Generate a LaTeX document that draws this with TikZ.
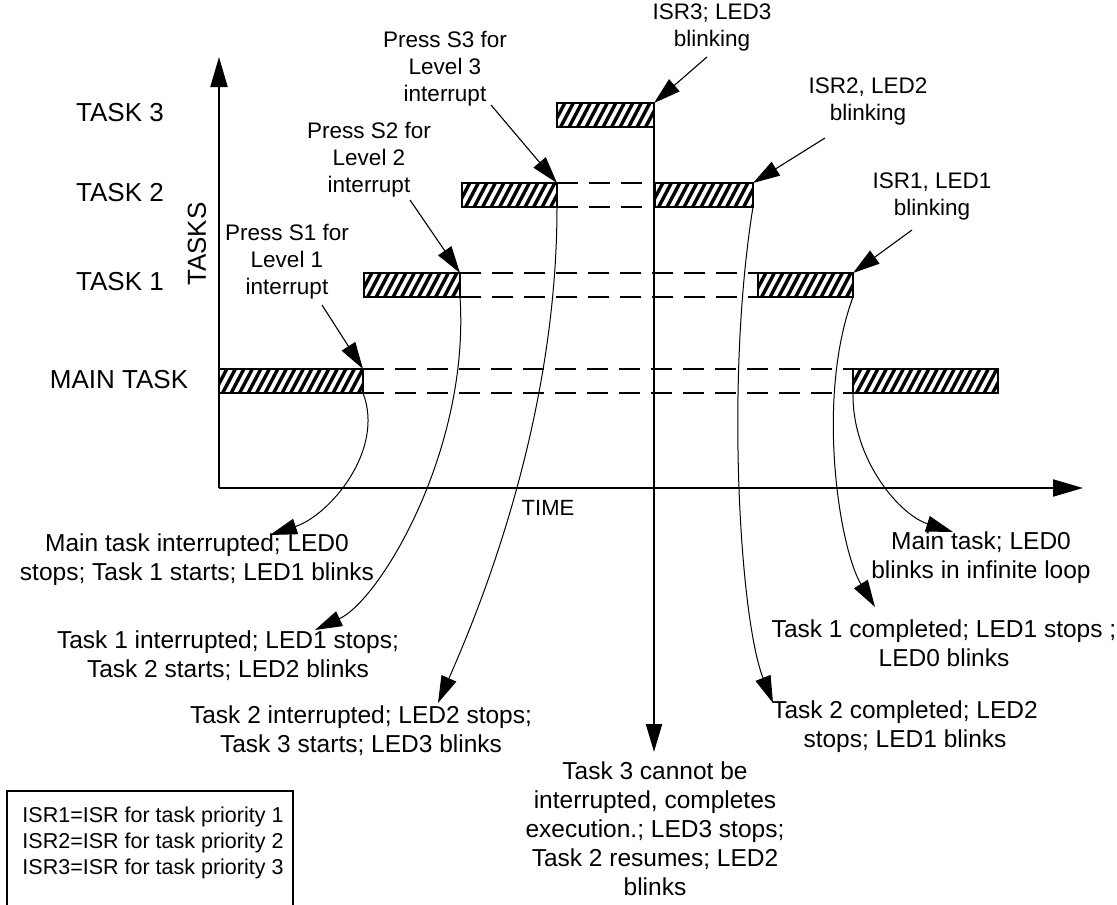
\documentclass[tikz,border=0pt]{standalone}
\usepackage{fontspec}
\setmainfont{Liberation Sans}
\usetikzlibrary{arrows.meta}
\begin{document}
\begin{tikzpicture}[x=1pt,y=-1pt,
  bar/.style={draw, line width=2pt, fill=white, inner sep=0pt, outer sep=0pt,
    minimum height=24pt, anchor=north west,
    path picture={\foreach \k in {0,...,24}{\draw[line width=3.4pt]
      ([xshift=\k*8.5pt-24pt, yshift=-4pt]path picture bounding box.south west) -- ++(18pt,34pt);}}},
  ax/.style={line width=2pt, -{Triangle[length=30pt,width=17pt]}},
  dsh/.style={line width=2pt, dash pattern=on 21pt off 11pt},
  ann/.style={line width=1.1pt, -{Triangle[length=27pt,width=16pt]}},
  crv/.style={line width=1pt, -{Triangle[length=27pt,width=16pt]}},
  lbl/.style={font=\fontsize{24.5}{29}\selectfont, align=center, inner sep=0pt},
  tlbl/.style={font=\fontsize{22.5}{27}\selectfont, align=center, inner sep=0pt},
  axl/.style={font=\fontsize{26}{30}\selectfont, inner sep=0pt},
  tml/.style={font=\fontsize{22}{26}\selectfont, inner sep=0pt},
  leg/.style={font=\fontsize{21.5}{25}\selectfont, inner sep=0pt}
]
\useasboundingbox (0,0) rectangle (1117,905);

% axes
\coordinate (O) at (219,488);
\coordinate (Y) at (219,57);
\coordinate (X) at (1083,488);
\draw[ax] (O) -- (Y);
\draw[ax] (O) -- (X);

% bars
\node[bar, minimum width=144pt] (m1) at (219,369) {};
\node[bar, minimum width=145pt] (m2) at (853,369) {};
\node[bar, minimum width=96pt] (t1a) at (364,273) {};
\node[bar, minimum width=95pt] (t1b) at (758,273) {};
\node[bar, minimum width=95pt] (t2a) at (462,183) {};
\node[bar, minimum width=98pt] (t2b) at (655,183) {};
\node[bar, minimum width=97pt] (t3) at (557,103) {};

% dashed continuation lines
\draw[dsh] (m1.north east) -- (m2.north west);
\draw[dsh] (m1.south east) -- (m2.south west);
\draw[dsh] (t1a.north east) -- (t1b.north west);
\draw[dsh] (t1a.south east) -- (t1b.south west);
\draw[dsh] (t2a.north east) -- (t2b.north west);
\draw[dsh] (t2a.south east) -- (t2b.south west);

% axis labels
\node[axl] (lt3) at (120,113) {TASK 3};
\node[axl] (lt2) at (120,193) {TASK 2};
\node[axl] (lt1) at (120,282) {TASK 1};
\node[axl] (lmain) at (119,380) {MAIN TASK};
\node[axl, rotate=90] (ltasks) at (197,244) {TASKS};
\node[tml] (ltime) at (548,508) {TIME};

% top labels
\node[tlbl] (ps1) at (287,262) {Press S1 for\\Level 1\\interrupt};
\node[tlbl] (ps2) at (369,160) {Press S2 for\\Level 2\\interrupt};
\node[tlbl] (ps3) at (445,69) {Press S3 for\\Level 3\\interrupt};
\node[tlbl] (isr3) at (712,27) {ISR3; LED3\\blinking};
\node[tlbl] (isr2) at (868,101) {ISR2, LED2\\blinking};
\node[tlbl] (isr1) at (932,196) {ISR1, LED1\\blinking};

\coordinate (s1) at (322,305);
\coordinate (s2) at (410,200);
\coordinate (s3) at (491,105);
\coordinate (i3) at (707,57);
\coordinate (i2) at (825,138);
\coordinate (i1) at (912,230);
\draw[ann] (s1) -- (m1.north east);
\draw[ann] (s2) -- (t1a.north east);
\draw[ann] (s3) -- (t2a.north east);
\draw[ann] (i3) -- (t3.north east);
\draw[ann] (i2) -- (t2b.north east);
\draw[ann] (i1) -- (t1b.north east);

% bottom labels
\node[lbl] (la) at (197,560) {Main task interrupted; LED0\\stops; Task 1 starts; LED1 blinks};
\node[lbl] (lb) at (228,656) {Task 1 interrupted; LED1 stops;\\Task 2 starts; LED2 blinks};
\node[lbl] (lc) at (361,731) {Task 2 interrupted; LED2 stops;\\Task 3 starts; LED3 blinks};
\node[lbl] (ld) at (655,829) {Task 3 cannot be\\interrupted, completes\\execution.; LED3 stops;\\Task 2 resumes; LED2\\blinks};
\node[lbl] (le) at (905,727) {Task 2 completed; LED2\\stops; LED1 blinks};
\node[lbl] (lf) at (944,643) {Task 1 completed; LED1 stops ;\\LED0 blinks};
\node[lbl] (lg) at (981,558) {Main task; LED0\\blinks in infinite loop};

\coordinate (ea) at (270,535);
\coordinate (eb) at (315,630);
\coordinate (ec) at (438,703);
\coordinate (ed) at (654,752);
\coordinate (ee) at (773,703);
\coordinate (ef) at (875,607);
\coordinate (eg) at (953,532);

\draw[crv] (m1.south east) .. controls (385,450) and (330,515) .. (ea);
\draw[crv] (t1a.south east) .. controls (470,450) and (380,600) .. (eb);
\draw[crv] (t2a.south east) .. controls (557,420) and (480,608) .. (ec);
\draw[line width=2pt, -{Triangle[length=28pt,width=16pt]}] (t3.north east) -- (ed);
\draw[crv] (t2b.south east) .. controls (725,380) and (740,620) .. (ee);
\draw[crv] (t1b.south east) .. controls (815,400) and (840,550) .. (ef);
\draw[crv] (m2.south west) .. controls (852,460) and (900,515) .. (eg);

% legend
\draw[line width=1.5pt] (7,920) -- (7,791) -- (293,791) -- (293,920);
\node[leg] (k1) at (153,817) {ISR1=ISR for task priority 1};
\node[leg] (k2) at (153,843) {ISR2=ISR for task priority 2};
\node[leg] (k3) at (153,869) {ISR3=ISR for task priority 3};
\end{tikzpicture}
\end{document}
